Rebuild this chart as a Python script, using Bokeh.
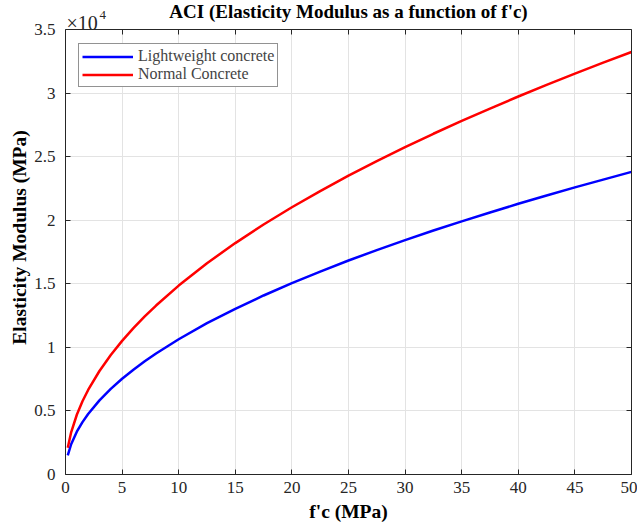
from bokeh.plotting import figure
from bokeh.models import Range1d, LinearAxis, Legend, LegendItem, Label, FixedTicker
from bokeh.embed import file_html
from bokeh.resources import INLINE

# f'c (MPa)
fc = [0.2, 0.5, 1, 1.5, 2, 3, 4, 5, 6, 7, 8, 10, 12.5, 15, 17.5, 20, 22.5, 25,
      27.5, 30, 32.5, 35, 37.5, 40, 42.5, 45, 47.5, 50]
# Elasticity modulus (MPa)
normal = [2100, 3320, 4700, 5760, 6650, 8140, 9400, 10510, 11510, 12430, 13290,
          14860, 16620, 18200, 19660, 21020, 22290, 23500, 24650, 25740, 26800,
          27810, 28780, 29730, 30640, 31530, 32390, 33230]
light = [1500, 2380, 3370, 4120, 4760, 5830, 6730, 7530, 8240, 8900, 9520,
         10640, 11900, 13030, 14080, 15050, 15960, 16830, 17650, 18430, 19190,
         19910, 20610, 21290, 21940, 22580, 23190, 23800]

x_ticks = [0, 5, 10, 15, 20, 25, 30, 35, 40, 45, 50]
y_ticks = [0, 5000, 10000, 15000, 20000, 25000, 30000, 35000]
y_tick_labels = ["0", "0.5", "1", "1.5", "2", "2.5", "3", "3.5"]
title_text = "ACI (Elasticity Modulus as a function of f'c)"

FONT = "Liberation Serif"
AX = "#262626"

W, H = 637, 526
LEFT, RIGHT, BOTTOM = 65, 6, 52
BOX_TOP = 29                      # pixel gap above the axes box
frame_h = H - BOTTOM              # frame reaches the top of the canvas
box_h = frame_h - BOX_TOP
x_lo, x_hi = x_ticks[0], x_ticks[-1]
y_lo, y_hi = y_ticks[0], y_ticks[-1]
y_top = y_lo + (y_hi - y_lo) * frame_h / box_h   # room for title inside frame

p = figure(width=W, height=H, x_range=Range1d(x_lo, x_hi), y_range=Range1d(y_lo, y_top),
           output_backend="svg", toolbar_location=None,
           min_border_left=LEFT, min_border_right=RIGHT, min_border_top=0,
           min_border_bottom=BOTTOM)
p.outline_line_color = None

p.xaxis.ticker = FixedTicker(ticks=x_ticks)
p.yaxis.ticker = FixedTicker(ticks=y_ticks)
p.yaxis.bounds = (y_lo, y_hi)
p.yaxis.major_label_overrides = {t: l for t, l in zip(y_ticks, y_tick_labels)}
p.xaxis.axis_label = "f'c (MPa)"
p.yaxis.axis_label = "Elasticity Modulus (MPa)"
for ax in p.axis:
    ax.axis_label_text_font = FONT
    ax.axis_label_text_font_style = "bold"
    ax.axis_label_text_font_size = "19.5px"
    ax.axis_label_text_color = "#000000"
    ax.major_label_text_font = FONT
    ax.major_label_text_font_size = "17px"
    ax.major_label_text_color = AX
    ax.axis_line_color = AX
    ax.major_tick_line_color = AX
    ax.major_tick_in = 5
    ax.major_tick_out = 0
    ax.minor_tick_line_color = None
p.xaxis.major_label_standoff = 7
p.yaxis.major_label_standoff = 10
p.xaxis.axis_label_standoff = 5
p.yaxis.axis_label_standoff = 1

# box edges with ticks (top / right)
top = LinearAxis(ticker=FixedTicker(ticks=x_ticks), fixed_location=y_hi,
                 major_label_overrides={t: "" for t in x_ticks},
                 major_tick_in=5, major_tick_out=0, minor_tick_line_color=None,
                 axis_line_color=AX, major_tick_line_color=AX, major_label_standoff=0)
right = LinearAxis(ticker=FixedTicker(ticks=y_ticks), bounds=(y_lo, y_hi),
                   major_label_overrides={t: "" for t in y_ticks},
                   major_tick_in=5, major_tick_out=0, minor_tick_line_color=None,
                   axis_line_color=AX, major_tick_line_color=AX, major_label_standoff=0)
p.add_layout(top, "above")
p.add_layout(right, "right")

p.xgrid.ticker = FixedTicker(ticks=x_ticks)
p.ygrid.ticker = FixedTicker(ticks=y_ticks)
p.grid.grid_line_color = "#e3e3e3"
p.grid.grid_line_width = 1
try:
    p.xgrid.cross_bounds = (y_lo, y_hi)
except Exception:
    pass

r1 = p.line(fc, light, line_color="#0000ff", line_width=2.5)
r2 = p.line(fc, normal, line_color="#ff0000", line_width=2.5)

legend = Legend(items=[LegendItem(label="Lightweight concrete", renderers=[r1]),
                       LegendItem(label="Normal Concrete", renderers=[r2])],
                location=(13, box_h - 13 - 45), margin=0, padding=3, spacing=0,
                glyph_width=51, glyph_height=17, label_height=17, label_standoff=5,
                label_text_font=FONT, label_text_font_size="16px",
                border_line_color=AX, border_line_width=1, background_fill_alpha=1)
p.add_layout(legend, "center")

frame_w = W - LEFT - RIGHT
title = Label(x=frame_w / 2, y=frame_h - 11, x_units="screen", y_units="screen",
              text=title_text, text_font=FONT, text_font_size="19px",
              text_font_style="bold", text_color="#000000",
              text_align="center", text_baseline="middle")
exp1 = Label(x=1, y=box_h + 7, x_units="screen", y_units="screen", text="\u00d710",
             text_font=FONT, text_font_size="20px", text_color=AX,
             text_baseline="alphabetic")
exp2 = Label(x=34, y=box_h + 15, x_units="screen", y_units="screen", text="4",
             text_font=FONT, text_font_size="13px", text_color=AX,
             text_baseline="alphabetic")
p.add_layout(title)
p.add_layout(exp1)
p.add_layout(exp2)

open("out.html", "w").write(file_html(p, INLINE))
